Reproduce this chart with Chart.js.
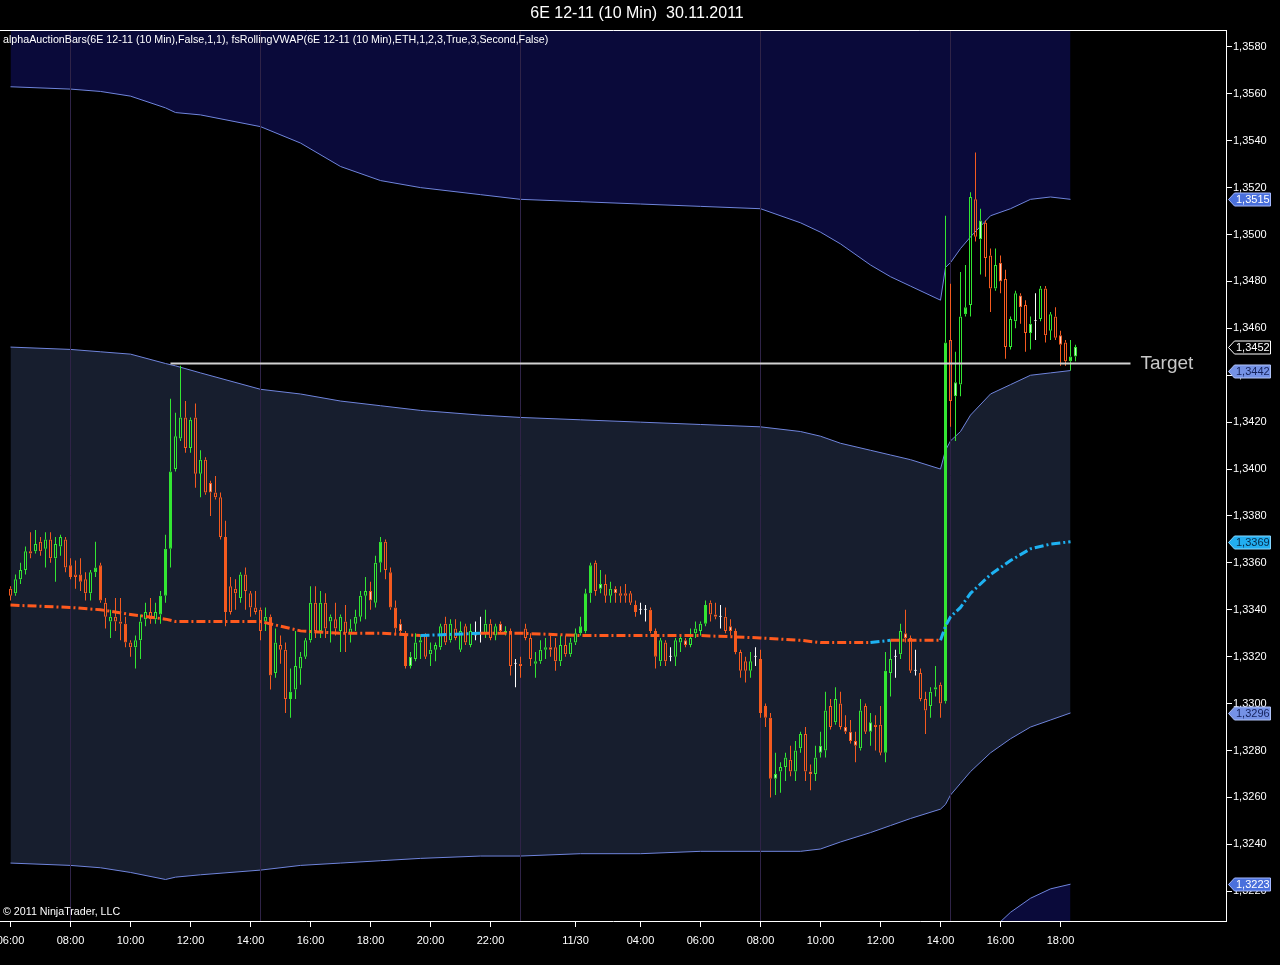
<!DOCTYPE html>
<html><head><meta charset="utf-8">
<script src="https://cdn.jsdelivr.net/npm/chart.js@4.4.1/dist/chart.umd.min.js"></script>
<style>html,body{margin:0;padding:0;background:#000;overflow:hidden}canvas{display:block}</style>
</head><body>
<canvas id="c" width="1280" height="965"></canvas>
<script>
// ---------- DATA (10-min bars, index 0 = 06:00 on 29.11) ----------
const barOpen = [
1.3349,1.3347,1.3353,1.3357,1.3365,1.3365,1.3369,1.3366,1.3370,1.3362,
1.3367,1.3370,1.3359,1.3355,1.3355,1.3353,1.3347,1.3356,1.3359,1.3343,
1.3335,1.3337,1.3335,1.3334,1.3326,1.3324,1.3327,1.3336,1.3339,1.3336,
1.3338,1.3346,1.3366,1.3400,1.3413,1.3422,1.3409,1.3422,1.3398,1.3404,
1.3394,1.3390,1.3388,1.3371,1.3350,1.3349,1.3345,1.3355,1.3347,1.3341,
1.3340,1.3335,1.3337,1.3313,1.3325,1.3323,1.3302,1.3306,1.3315,1.3320,
1.3327,1.3343,1.3331,1.3343,1.3335,1.3336,1.3331,1.3335,1.3330,1.3334,
1.3337,1.3346,1.3348,1.3343,1.3360,1.3369,1.3356,1.3341,1.3334,1.3330,
1.3316,1.3319,1.3326,1.3329,1.3321,1.3323,1.3324,1.3334,1.3327,1.3332,
1.3323,1.3333,1.3325,1.3329,1.3330,1.3330,1.3334,1.3329,1.3334,1.3330,
1.3331,1.3317,1.3317,1.3332,1.3328,1.3317,1.3318,1.3323,1.3324,1.3324,
1.3318,1.3325,1.3321,1.3326,1.3330,1.3331,1.3347,1.3360,1.3349,1.3351,
1.3346,1.3349,1.3347,1.3347,1.3347,1.3342,1.3340,1.3340,1.3340,1.3331,
1.3318,1.3326,1.3320,1.3320,1.3326,1.3327,1.3325,1.3330,1.3331,1.3334,
1.3343,1.3338,1.3337,1.3337,1.3333,1.3331,1.3322,1.3318,1.3314,1.3320,
1.3319,1.3299,1.3294,1.3268,1.3271,1.3273,1.3276,1.3271,1.3281,1.3287,
1.3271,1.3270,1.3279,1.3280,1.3299,1.3292,1.3300,1.3290,1.3288,1.3284,
1.3281,1.3299,1.3288,1.3291,1.3291,1.3279,1.3313,1.3320,1.3321,1.3330,
1.3328,1.3314,1.3313,1.3302,1.3299,1.3306,1.3308,1.3301,1.3455,1.3431,
1.3436,1.3466,1.3470,1.3515,1.3498,1.3505,1.3491,1.3477,1.3488,1.3481,
1.3452,1.3463,1.3474,1.3470,1.3458,1.3463,1.3464,1.3477,1.3459,1.3465,
1.3457,1.3454,1.3446,1.3448];
const barHigh = [
1.3350,1.3355,1.3360,1.3367,1.3373,1.3374,1.3371,1.3373,1.3373,1.3371,
1.3372,1.3371,1.3362,1.3361,1.3362,1.3356,1.3357,1.3369,1.3360,1.3345,
1.3340,1.3345,1.3345,1.3337,1.3327,1.3329,1.3338,1.3343,1.3345,1.3343,
1.3348,1.3372,1.3430,1.3424,1.3444,1.3429,1.3422,1.3428,1.3408,1.3405,
1.3395,1.3397,1.3390,1.3378,1.3354,1.3353,1.3356,1.3358,1.3348,1.3348,
1.3341,1.3341,1.3338,1.3332,1.3329,1.3326,1.3315,1.3331,1.3322,1.3328,
1.3350,1.3350,1.3348,1.3347,1.3338,1.3343,1.3338,1.3342,1.3336,1.3340,
1.3348,1.3354,1.3352,1.3363,1.3371,1.3370,1.3358,1.3344,1.3336,1.3331,
1.3322,1.3330,1.3329,1.3330,1.3326,1.3326,1.3334,1.3337,1.3336,1.3336,
1.3335,1.3334,1.3334,1.3335,1.3337,1.3340,1.3336,1.3334,1.3335,1.3333,
1.3332,1.3319,1.3320,1.3334,1.3330,1.3322,1.3327,1.3328,1.3329,1.3328,
1.3329,1.3329,1.3328,1.3332,1.3337,1.3349,1.3360,1.3361,1.3357,1.3355,
1.3352,1.3350,1.3350,1.3351,1.3348,1.3344,1.3343,1.3342,1.3341,1.3332,
1.3328,1.3327,1.3324,1.3328,1.3329,1.3328,1.3332,1.3335,1.3335,1.3344,
1.3344,1.3343,1.3342,1.3341,1.3336,1.3332,1.3323,1.3320,1.3322,1.3324,
1.3323,1.3300,1.3296,1.3279,1.3275,1.3279,1.3282,1.3284,1.3288,1.3290,
1.3274,1.3282,1.3288,1.3305,1.3302,1.3307,1.3305,1.3295,1.3293,1.3288,
1.3302,1.3300,1.3296,1.3295,1.3299,1.3322,1.3327,1.3323,1.3334,1.3340,
1.3329,1.3323,1.3315,1.3305,1.3307,1.3316,1.3309,1.3508,1.3479,1.3450,
1.3484,1.3487,1.3518,1.3535,1.3511,1.3506,1.3494,1.3494,1.3491,1.3485,
1.3465,1.3476,1.3475,1.3472,1.3465,1.3475,1.3478,1.3478,1.3467,1.3469,
1.3459,1.3455,1.3455,1.3453];
const barLow = [
1.3344,1.3346,1.3351,1.3355,1.3362,1.3364,1.3363,1.3358,1.3360,1.3352,
1.3363,1.3356,1.3353,1.3349,1.3348,1.3344,1.3344,1.3354,1.3343,1.3332,
1.3328,1.3331,1.3327,1.3324,1.3320,1.3315,1.3319,1.3333,1.3334,1.3334,
1.3334,1.3343,1.3358,1.3399,1.3412,1.3407,1.3407,1.3392,1.3388,1.3389,
1.3380,1.3387,1.3370,1.3333,1.3338,1.3340,1.3343,1.3340,1.3337,1.3338,
1.3327,1.3331,1.3306,1.3311,1.3317,1.3296,1.3294,1.3302,1.3308,1.3319,
1.3326,1.3328,1.3328,1.3328,1.3326,1.3329,1.3322,1.3322,1.3326,1.3331,
1.3335,1.3336,1.3340,1.3341,1.3356,1.3353,1.3340,1.3330,1.3329,1.3315,
1.3315,1.3318,1.3319,1.3319,1.3316,1.3318,1.3323,1.3325,1.3326,1.3327,
1.3322,1.3325,1.3324,1.3327,1.3326,1.3328,1.3327,1.3327,1.3330,1.3329,
1.3312,1.3307,1.3311,1.3327,1.3316,1.3311,1.3317,1.3319,1.3320,1.3314,
1.3316,1.3320,1.3320,1.3325,1.3329,1.3330,1.3343,1.3346,1.3347,1.3343,
1.3343,1.3343,1.3343,1.3343,1.3342,1.3337,1.3338,1.3335,1.3330,1.3315,
1.3316,1.3316,1.3318,1.3316,1.3322,1.3324,1.3324,1.3328,1.3329,1.3333,
1.3335,1.3336,1.3332,1.3330,1.3329,1.3321,1.3311,1.3309,1.3311,1.3316,
1.3294,1.3290,1.3260,1.3261,1.3262,1.3267,1.3269,1.3267,1.3279,1.3267,
1.3263,1.3267,1.3277,1.3277,1.3289,1.3291,1.3289,1.3287,1.3283,1.3275,
1.3280,1.3287,1.3282,1.3280,1.3278,1.3275,1.3303,1.3311,1.3319,1.3326,
1.3313,1.3312,1.3301,1.3287,1.3294,1.3303,1.3294,1.3300,1.3418,1.3412,
1.3431,1.3465,1.3465,1.3497,1.3483,1.3482,1.3467,1.3476,1.3475,1.3447,
1.3451,1.3460,1.3462,1.3450,1.3451,1.3455,1.3463,1.3454,1.3455,1.3455,
1.3444,1.3444,1.3442,1.3446];
const barClose = [
1.3346,1.3353,1.3357,1.3365,1.3364,1.3368,1.3365,1.3370,1.3362,1.3368,
1.3371,1.3358,1.3354,1.3354,1.3352,1.3347,1.3356,1.3358,1.3344,1.3337,
1.3337,1.3335,1.3334,1.3326,1.3324,1.3327,1.3335,1.3339,1.3336,1.3339,
1.3346,1.3366,1.3399,1.3414,1.3422,1.3409,1.3421,1.3398,1.3404,1.3390,
1.3390,1.3388,1.3371,1.3339,1.3339,1.3347,1.3355,1.3348,1.3341,1.3339,
1.3331,1.3337,1.3312,1.3326,1.3323,1.3302,1.3305,1.3316,1.3320,1.3327,
1.3343,1.3331,1.3343,1.3332,1.3337,1.3332,1.3337,1.3330,1.3332,1.3337,
1.3346,1.3348,1.3344,1.3360,1.3369,1.3357,1.3341,1.3332,1.3331,1.3316,
1.3320,1.3326,1.3327,1.3320,1.3323,1.3325,1.3333,1.3326,1.3334,1.3328,
1.3331,1.3326,1.3331,1.3329,1.3330,1.3334,1.3328,1.3333,1.3331,1.3331,
1.3316,1.3317,1.3316,1.3328,1.3319,1.3318,1.3323,1.3324,1.3323,1.3318,
1.3325,1.3321,1.3326,1.3330,1.3333,1.3347,1.3359,1.3348,1.3351,1.3346,
1.3349,1.3347,1.3346,1.3346,1.3343,1.3339,1.3340,1.3340,1.3331,1.3320,
1.3327,1.3318,1.3320,1.3327,1.3328,1.3325,1.3328,1.3332,1.3334,1.3342,
1.3338,1.3337,1.3337,1.3331,1.3331,1.3322,1.3314,1.3314,1.3318,1.3320,
1.3296,1.3294,1.3268,1.3270,1.3273,1.3277,1.3271,1.3280,1.3287,1.3271,
1.3270,1.3277,1.3282,1.3297,1.3290,1.3302,1.3290,1.3288,1.3284,1.3282,
1.3297,1.3288,1.3292,1.3290,1.3279,1.3314,1.3319,1.3320,1.3331,1.3328,
1.3314,1.3314,1.3302,1.3297,1.3305,1.3307,1.3300,1.3454,1.3429,1.3437,
1.3465,1.3469,1.3516,1.3499,1.3506,1.3490,1.3477,1.3487,1.3480,1.3452,
1.3464,1.3475,1.3469,1.3458,1.3462,1.3463,1.3477,1.3457,1.3466,1.3456,
1.3453,1.3446,1.3448,1.3452];
// auction-bar categories (filled bars / pale-bodied bars)
const solidBars = [12,14,17,18,23,30,31,32,43,52,56,74,76,77,79,99,114,115,116,125,128,129,139,145,150,151,152,175,185,187,191,212];
const paleBars = [40,72,78,80,98,108,118,121,135,141,144,153,160,162,167,168,169,172,179,189,194,198,202,204,210,213];

// rolling VWAP and its bands, read at these bar indices
const bandIdx = [0,12,18,24,31,33,38,50,58,66,74,82,94,102,114,126,138,150,158,162,166,172,176,180,186,187,188,190,192,196,200,204,208,212];
const upper2 = [1.3563,1.3562,1.3561,1.3559,1.3554,1.3552,1.3551,1.3546,1.3539,1.3529,1.3523,1.3520,1.3517,1.3515,1.3514,1.3513,1.3512,1.3511,1.3505,1.3501,1.3496,1.3487,1.3482,1.3478,1.3472,1.3486,1.3488,1.3494,1.3499,1.3508,1.3511,1.3515,1.3516,1.3515];
const upper1 = [1.3452,1.3451,1.3450,1.3449,1.3445,1.3444,1.3441,1.3434,1.3432,1.3429,1.3427,1.3425,1.3423,1.3422,1.3421,1.3420,1.3419,1.3418,1.3416,1.3414,1.3411,1.3408,1.3406,1.3404,1.3400,1.3408,1.3412,1.3416,1.3423,1.3432,1.3436,1.3440,1.3441,1.3442];
const vwap   = [1.3342,1.3341,1.3340,1.3338,1.3336,1.3335,1.3335,1.3335,1.3331,1.3330,1.3330,1.3329,1.3330,1.3330,1.3329,1.3329,1.3329,1.3328,1.3327,1.3326,1.3326,1.3326,1.3327,1.3327,1.3327,1.3333,1.3337,1.3341,1.3347,1.3355,1.3361,1.3366,1.3368,1.3369];
const lower1 = [1.3232,1.3231,1.3230,1.3228,1.3225,1.3226,1.3227,1.3229,1.3231,1.3232,1.3233,1.3234,1.3235,1.3235,1.3236,1.3236,1.3237,1.3237,1.3237,1.3238,1.3241,1.3245,1.3248,1.3251,1.3255,1.3257,1.3261,1.3266,1.3271,1.3279,1.3285,1.3290,1.3293,1.3296];
const lower2Idx = [196,200,204,208,212];
const lower2 = [1.3203,1.3211,1.3217,1.3221,1.3223];

const sessionIdx = [12,50,102,150,188];
const targetPrice = 1.3445;
const targetIdx = [32,224];

const xTickIdx = [0,12,24,36,48,60,72,84,96,113,126,138,150,162,174,186,198,210];
const xTickLabels = ['06:00','08:00','10:00','12:00','14:00','16:00','18:00','20:00','22:00','11/30','04:00','06:00','08:00','10:00','12:00','14:00','16:00','18:00'];
const yTicks = [1.3220,1.3240,1.3260,1.3280,1.3300,1.3320,1.3340,1.3360,1.3380,1.3400,1.3420,1.3440,1.3460,1.3480,1.3500,1.3520,1.3540,1.3560,1.3580];

const titleText = '6E 12-11 (10 Min)  30.11.2011';
const indicatorText = 'alphaAuctionBars(6E 12-11 (10 Min),False,1,1), fsRollingVWAP(6E 12-11 (10 Min),ETH,1,2,3,True,3,Second,False)';
const copyrightText = '\u00A9 2011 NinjaTrader, LLC';

// ---------- RENDER ----------
const FONT = "'Liberation Sans', Arial, sans-serif";
Chart.defaults.font.family = FONT;
Chart.defaults.font.size = 11;
Chart.defaults.color = '#ffffff';

const X_MIN = -2.1, X_MAX = 243.1, Y_MIN = 1.32073, Y_MAX = 1.35872;
const UP = '#33e633', DN = '#f45a1f', DJ = '#ffffff';
const NAVY = 'rgb(10,10,58)', SLATE = 'rgb(23,30,46)', BAND = '#6f84dc', SESSION = '#2f2347';
const ORANGE = '#ff5a1e', BLUE = '#1eb2f2';

const n = barOpen.length;
const ix = Array.from({length: n}, (_, i) => i);
const dir = ix.map(i => Math.sign(barClose[i] - barOpen[i]));
const col = ix.map(i => dir[i] > 0 ? UP : dir[i] < 0 ? DN : DJ);
const bodyFill = ix.map(i => solidBars.includes(i) ? col[i]
  : paleBars.includes(i) ? (dir[i] > 0 ? '#c9f7c9' : '#f9d3c2')
  : dir[i] === 0 ? DJ : 'rgba(0,0,0,0)');
const pts = (idx, vals) => idx.map((x, k) => ({x, y: vals[k]}));
const sessionPts = sessionIdx.flatMap(s => [{x: s, y: Y_MIN}, {x: s, y: Y_MAX}, {x: s, y: null}]);
const fmt = v => v.toFixed(4).replace('.', ',');

const markers = [
  {v: upper2[upper2.length - 1], fill: '#4a70dc', stroke: '#a4b8ff', text: '#ffffff'},
  {v: barClose[n - 1],          fill: '#000000', stroke: '#ffffff', text: '#ffffff'},
  {v: upper1[upper1.length - 1], fill: '#7592e6', stroke: '#b0c2f6', text: '#14225c'},
  {v: vwap[vwap.length - 1],     fill: '#22aef0', stroke: '#86d6ff', text: '#062a4a'},
  {v: lower1[lower1.length - 1], fill: '#7592e6', stroke: '#b0c2f6', text: '#14225c'},
  {v: lower2[lower2.length - 1], fill: '#4a70dc', stroke: '#a4b8ff', text: '#ffffff'}
];

const decor = {
  id: 'decor',
  afterDraw(chart) {
    const {ctx, chartArea: a, scales: {x: xs, y: ys}} = chart;
    ctx.save();
    ctx.strokeStyle = '#ffffff'; ctx.lineWidth = 1;
    ctx.beginPath();
    ctx.moveTo(0, Math.round(a.top) + 0.5);
    ctx.lineTo(Math.round(a.right) + 0.5, Math.round(a.top) + 0.5);
    ctx.stroke();
    ctx.textBaseline = 'middle';
    ctx.fillStyle = '#ffffff';
    ctx.font = '16px ' + FONT; ctx.textAlign = 'center';
    ctx.fillText(titleText, 637, 14);
    ctx.font = '10.7px ' + FONT; ctx.textAlign = 'left';
    ctx.fillText(indicatorText, 3, 40);
    ctx.fillText(copyrightText, 3, 912);
    ctx.fillStyle = '#c8c8c8'; ctx.font = '19px ' + FONT;
    ctx.fillText('Target', xs.getPixelForValue(targetIdx[1]) + 10, ys.getPixelForValue(targetPrice));
    ctx.font = '11px ' + FONT;
    markers.forEach(m => {
      const y = Math.round(ys.getPixelForValue(m.v)) + 0.5;
      const x0 = Math.round(a.right) + 2.5, x1 = x0 + 6, x2 = 1270.5;
      ctx.beginPath();
      ctx.moveTo(x0, y); ctx.lineTo(x1, y - 6.5); ctx.lineTo(x2, y - 6.5);
      ctx.lineTo(x2, y + 6.5); ctx.lineTo(x1, y + 6.5); ctx.closePath();
      ctx.fillStyle = m.fill; ctx.fill();
      ctx.strokeStyle = m.stroke; ctx.stroke();
      ctx.fillStyle = m.text;
      ctx.fillText(fmt(m.v), x1 + 1.5, y + 0.5);
    });
    ctx.restore();
  }
};

const lineBase = {type: 'line', pointRadius: 0, borderWidth: 1, tension: 0, fill: false};
const barBase = {type: 'bar', grouped: false, borderSkipped: false, inflateAmount: 0};

new Chart(document.getElementById('c'), {
  type: 'line',
  data: {datasets: [
    {...lineBase, label: 'upper2', data: pts(bandIdx, upper2), borderColor: BAND, fill: 'end', backgroundColor: NAVY, order: 20},
    {...lineBase, label: 'upper1', data: pts(bandIdx, upper1), borderColor: BAND, fill: '+1', backgroundColor: SLATE, order: 19},
    {...lineBase, label: 'lower1', data: pts(bandIdx, lower1), borderColor: BAND, order: 18},
    {...lineBase, label: 'lower2', data: pts(lower2Idx, lower2), borderColor: BAND, fill: 'start', backgroundColor: NAVY, order: 18},
    {...lineBase, label: 'sessions', data: sessionPts, borderColor: SESSION, spanGaps: false, order: 15},
    {...barBase, label: 'upperWick', data: ix.map(i => ({x: i, y: [Math.max(barOpen[i], barClose[i]), barHigh[i]]})),
      backgroundColor: col, borderWidth: 0, barThickness: 1, order: 10},
    {...barBase, label: 'lowerWick', data: ix.map(i => ({x: i, y: [barLow[i], Math.min(barOpen[i], barClose[i])]})),
      backgroundColor: col, borderWidth: 0, barThickness: 1, order: 10},
    {...barBase, label: 'body', data: ix.map(i => ({x: i, y: [Math.min(barOpen[i], barClose[i]), Math.max(barOpen[i], barClose[i])]})),
      backgroundColor: bodyFill, borderColor: col, borderWidth: 1, barThickness: 3, minBarLength: 1, order: 9},
    {...lineBase, label: 'vwap', data: pts(bandIdx, vwap), borderWidth: 3, borderDash: [9, 3, 2, 3], borderCapStyle: 'butt',
      borderColor: ORANGE, segment: {borderColor: c => c.p1.parsed.y > c.p0.parsed.y ? BLUE : ORANGE}, order: 5},
    {...lineBase, label: 'target', data: targetIdx.map(x => ({x, y: targetPrice})), borderColor: '#d2d2d2', borderWidth: 2, order: 4}
  ]},
  options: {
    responsive: false, animation: false, events: [],
    layout: {padding: {top: 30, left: 0, right: 0, bottom: 0}},
    plugins: {legend: {display: false}, tooltip: {enabled: false}, title: {display: false}},
    scales: {
      x: {
        type: 'linear', position: 'bottom', min: X_MIN, max: X_MAX, offset: false, bounds: 'data',
        grid: {display: true, drawOnChartArea: false, drawTicks: true, tickLength: 6, tickColor: '#ffffff', offset: false},
        border: {display: true, color: '#ffffff', width: 1},
        ticks: {color: '#ffffff', font: {size: 11}, autoSkip: false, maxRotation: 0, minRotation: 0, padding: 7,
          callback: v => { const k = xTickIdx.indexOf(v); return k >= 0 ? xTickLabels[k] : ''; }},
        afterBuildTicks: s => { s.ticks = xTickIdx.map(v => ({value: v})); },
        afterFit: s => { s.height = 44; s.paddingLeft = 0; s.paddingRight = 0; }
      },
      y: {
        type: 'linear', position: 'right', min: Y_MIN, max: Y_MAX, bounds: 'data',
        grid: {display: true, drawOnChartArea: false, drawTicks: true, tickLength: 6, tickColor: '#ffffff'},
        border: {display: true, color: '#ffffff', width: 1},
        ticks: {color: '#ffffff', font: {size: 11}, autoSkip: false, padding: 1, callback: v => fmt(v)},
        afterBuildTicks: s => { s.ticks = yTicks.map(v => ({value: v})); },
        afterFit: s => { s.width = 54; s.paddingTop = 0; s.paddingBottom = 0; }
      }
    }
  },
  plugins: [decor]
});
</script>
</body></html>
